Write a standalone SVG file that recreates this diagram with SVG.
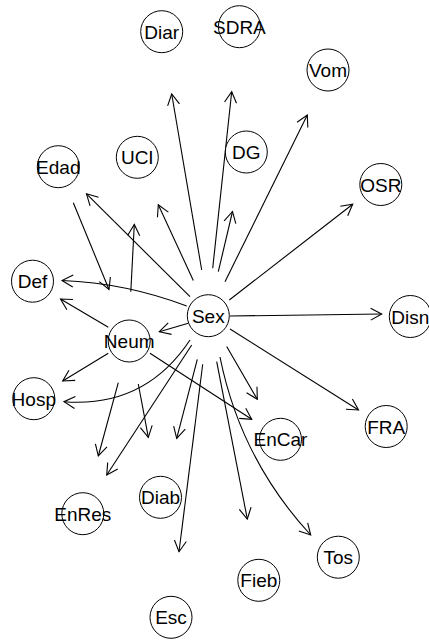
<svg xmlns="http://www.w3.org/2000/svg" width="429" height="640" viewBox="0 0 429 640">
<style>
.n circle{fill:#fff;stroke:#000;stroke-width:1}
.n text{font-family:"Liberation Sans",Arial,sans-serif;font-size:19px;text-anchor:middle;fill:#000}
#edges path{fill:none;stroke:#000;stroke-width:1.1;marker-end:url(#a)}
</style>
<defs>
<marker id="a" markerUnits="userSpaceOnUse" markerWidth="14" markerHeight="14" viewBox="-12 -7 14 14" refX="0" refY="0" orient="auto" overflow="visible">
<path d="M-11,-6 L0,0 L-11,6" fill="none" stroke="#000" stroke-width="1.1"/>
</marker>
</defs>
<rect width="429" height="640" fill="#fff"/>
<g id="edges">
<path d="M201.7,270 L171.7,94"/>
<path d="M212.7,268.3 L231.7,91.7"/>
<path d="M218.3,271.7 L232.5,211.5"/>
<path d="M225,281.7 L307.3,115"/>
<path d="M229.3,300 L352.7,204.3"/>
<path d="M230,316 L381.7,314"/>
<path d="M230,329 L358.5,410"/>
<path d="M226.7,346.5 L257.3,399.3"/>
<path d="M220,357 Q240.4,458.7 310.7,535"/>
<path d="M216.7,361.7 L247.3,519"/>
<path d="M202.7,364.3 L179,551.7"/>
<path d="M197.3,359.3 L176.7,438.3"/>
<path d="M191.7,345 L106.7,475"/>
<path d="M190,340 Q145,408 64,401.7"/>
<path d="M188.3,323.3 L159.3,331.7"/>
<path d="M186.7,306 Q126,283 62,280.5"/>
<path d="M190,296.7 L86.5,193.8"/>
<path d="M193.3,280.5 L158.3,204.7"/>
<path d="M73.3,202.7 L109,289.5"/>
<path d="M130.8,291.7 L134.3,224.5"/>
<path d="M108.3,327.3 L60.5,299"/>
<path d="M108.3,353.3 L62.7,381"/>
<path d="M150,353.3 L251.7,419.3"/>
<path d="M118.3,382.7 L98.3,456"/>
<path d="M138.3,384 L148.3,437.3"/>
</g>
<g id="Diar" class="n"><circle cx="161.7" cy="31.7" r="21"/><text x="161.7" y="38.7">Diar</text></g>
<g id="SDRA" class="n"><circle cx="239.4" cy="26.7" r="21"/><text x="239.4" y="33.7">SDRA</text></g>
<g id="Vom" class="n"><circle cx="328" cy="70" r="21"/><text x="328" y="77">Vom</text></g>
<g id="UCI" class="n"><circle cx="137.3" cy="157.3" r="21"/><text x="137.3" y="164.3">UCI</text></g>
<g id="DG" class="n"><circle cx="246.3" cy="152" r="21"/><text x="246.3" y="159">DG</text></g>
<g id="Edad" class="n"><circle cx="58.3" cy="166.7" r="21"/><text x="58.3" y="173.7">Edad</text></g>
<g id="OSR" class="n"><circle cx="380.8" cy="184.5" r="21"/><text x="380.8" y="191.5">OSR</text></g>
<g id="Def" class="n"><circle cx="32.5" cy="281.2" r="21"/><text x="32.5" y="288.2">Def</text></g>
<g id="Sex" class="n"><circle cx="208.3" cy="315.7" r="21"/><text x="208.3" y="322.7">Sex</text></g>
<g id="Disn" class="n"><circle cx="410.3" cy="316.5" r="21"/><text x="410.3" y="323.5">Disn</text></g>
<g id="Neum" class="n"><circle cx="129.2" cy="341" r="21"/><text x="129.2" y="348">Neum</text></g>
<g id="Hosp" class="n"><circle cx="33.8" cy="398.7" r="21"/><text x="33.8" y="405.7">Hosp</text></g>
<g id="FRA" class="n"><circle cx="386.2" cy="426.5" r="21"/><text x="386.2" y="433.5">FRA</text></g>
<g id="EnCar" class="n"><circle cx="280.5" cy="439.3" r="21"/><text x="280.5" y="446.3">EnCar</text></g>
<g id="Diab" class="n"><circle cx="160.5" cy="497.3" r="21"/><text x="160.5" y="504.3">Diab</text></g>
<g id="EnRes" class="n"><circle cx="82.8" cy="513.7" r="21"/><text x="82.8" y="520.7">EnRes</text></g>
<g id="Esc" class="n"><circle cx="171" cy="617.3" r="21"/><text x="171" y="624.3">Esc</text></g>
<g id="Fieb" class="n"><circle cx="258.8" cy="580.3" r="21"/><text x="258.8" y="587.3">Fieb</text></g>
<g id="Tos" class="n"><circle cx="338.3" cy="557.2" r="21"/><text x="338.3" y="564.2">Tos</text></g>
</svg>
